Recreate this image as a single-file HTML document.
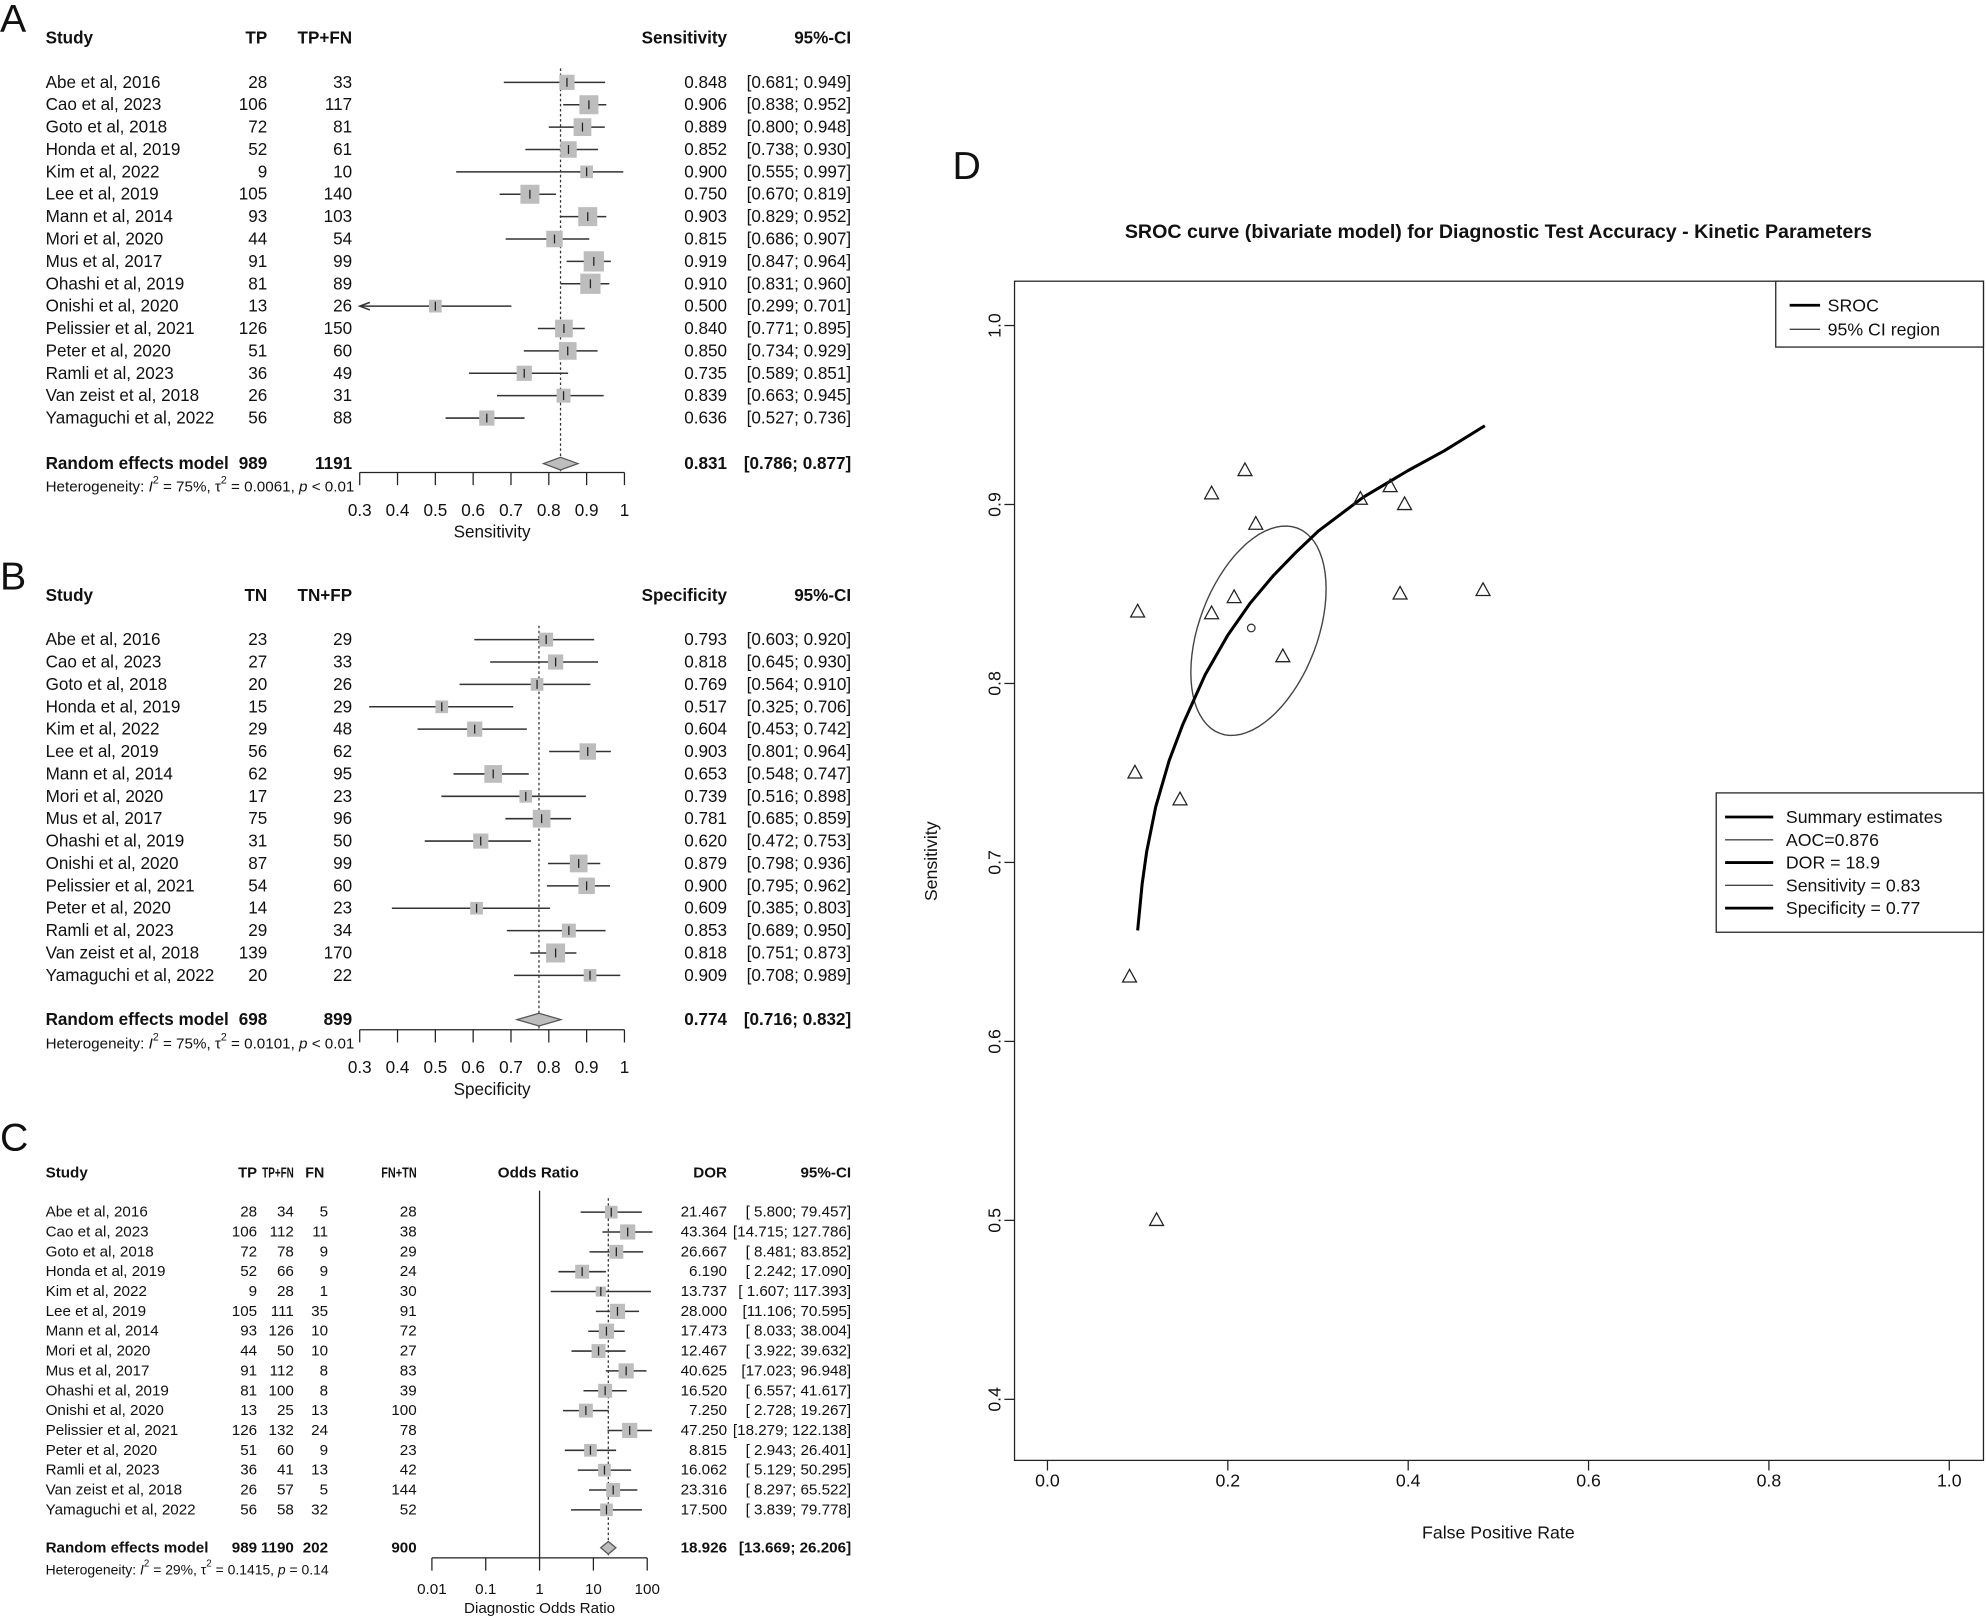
<!DOCTYPE html>
<html><head><meta charset="utf-8"><style>
html,body{margin:0;padding:0;background:#fff;}
svg{display:block;font-family:"Liberation Sans",Arial,sans-serif;}
text{white-space:pre;}
</style></head><body>
<svg id="fig" width="1986" height="1620" viewBox="0 0 1568 1279" xmlns="http://www.w3.org/2000/svg"></svg>
<script>
const studies=["Abe et al, 2016","Cao et al, 2023","Goto et al, 2018","Honda et al, 2019","Kim et al, 2022","Lee et al, 2019","Mann et al, 2014","Mori et al, 2020","Mus et al, 2017","Ohashi et al, 2019","Onishi et al, 2020","Pelissier et al, 2021","Peter et al, 2020","Ramli et al, 2023","Van zeist et al, 2018","Yamaguchi et al, 2022"];
// Panel A
const aTP=[28,106,72,52,9,105,93,44,91,81,13,126,51,36,26,56];
const aTot=[33,117,81,61,10,140,103,54,99,89,26,150,60,49,31,88];
const aSens=[0.848,0.906,0.889,0.852,0.900,0.750,0.903,0.815,0.919,0.910,0.500,0.840,0.850,0.735,0.839,0.636];
const aLo=[0.681,0.838,0.800,0.738,0.555,0.670,0.829,0.686,0.847,0.831,0.299,0.771,0.734,0.589,0.663,0.527];
const aHi=[0.949,0.952,0.948,0.930,0.997,0.819,0.952,0.907,0.964,0.960,0.701,0.895,0.929,0.851,0.945,0.736];
const aW=[12,15,14,13,10,15,15,13,16,16,10,14,14,12,11,12];
const aPooled=[0.831,0.786,0.877];
// Panel B
const bTN=[23,27,20,15,29,56,62,17,75,31,87,54,14,29,139,20];
const bTot=[29,33,26,29,48,62,95,23,96,50,99,60,23,34,170,22];
const bSpec=[0.793,0.818,0.769,0.517,0.604,0.903,0.653,0.739,0.781,0.620,0.879,0.900,0.609,0.853,0.818,0.909];
const bLo=[0.603,0.645,0.564,0.325,0.453,0.801,0.548,0.516,0.685,0.472,0.798,0.795,0.385,0.689,0.751,0.708];
const bHi=[0.920,0.930,0.910,0.706,0.742,0.964,0.747,0.898,0.859,0.753,0.936,0.962,0.803,0.950,0.873,0.989];
const bW=[11,12,10,10,12,13,14,10,14,12,14,13,10,11,15,10];
const bPooled=[0.774,0.716,0.832];
// Panel C
const cTP=[28,106,72,52,9,105,93,44,91,81,13,126,51,36,26,56];
const cTPFN=[34,112,78,66,28,111,126,50,112,100,25,132,60,41,57,58];
const cFN=[5,11,9,9,1,35,10,10,8,8,13,24,9,13,5,32];
const cFNTN=[28,38,29,24,30,91,72,27,83,39,100,78,23,42,144,52];
const cDOR=[21.467,43.364,26.667,6.190,13.737,28.000,17.473,12.467,40.625,16.520,7.250,47.250,8.815,16.062,23.316,17.500];
const cLo=[5.800,14.715,8.481,2.242,1.607,11.106,8.033,3.922,17.023,6.557,2.728,18.279,2.943,5.129,8.297,3.839];
const cHi=[79.457,127.786,83.852,17.090,117.393,70.595,38.004,39.632,96.948,41.617,19.267,122.138,26.401,50.295,65.522,79.778];
const cW=[10,12,11,11,8,12,12,11,12,11,11,12,10,10,11,10];
const cPooled=[18.926,13.669,26.206];
// Panel D
const dSens=aSens;
const dFpr=bSpec.map(s=>+(1-s).toFixed(3));
const dSummary=[0.226,0.831];
const srocFpr=[0.1,0.105,0.11,0.12,0.135,0.15,0.175,0.2,0.225,0.25,0.275,0.3,0.35,0.4,0.44,0.485];
const srocSens=[0.662,0.688,0.706,0.731,0.757,0.777,0.805,0.827,0.845,0.860,0.873,0.885,0.904,0.919,0.930,0.944];
const ellipse=[0.234,0.8295,0.075,0.0585,1.16]; // cx, cy, rx, ry, phase
const dXTicks=[0,0.2,0.4,0.6,0.8,1.0];
const dYTicks=[0.4,0.5,0.6,0.7,0.8,0.9,1.0];

const NS="http://www.w3.org/2000/svg";
const svg=document.getElementById('fig');
function el(tag,attrs,parent,txt){const e=document.createElementNS(NS,tag);for(const k in attrs)e.setAttribute(k,attrs[k]);if(txt!==undefined)e.textContent=txt;(parent||svg).appendChild(e);return e;}
function grp(name){const g=el('g',{});return g;}
function txt(g,name,x,y,s,opt){opt=opt||{};const t=el('text',{x:x,y:y,'font-size':opt.fs||13.5,'text-anchor':opt.anchor||'start','dominant-baseline':'central','font-weight':opt.bold?'bold':'normal',fill:'#111'},g,s);
if(opt.tl){t.setAttribute('textLength',opt.tl);t.setAttribute('lengthAdjust','spacingAndGlyphs');}

return t;}
const f3=v=>v.toFixed(3);
const pad=(s,n)=>' '.repeat(Math.max(0,n-s.length))+s;

function panelLabel(s,x,y){const g=grp('panel-label-'+s.toLowerCase());txt(g,'panel-letter',x,y,s,{fs:31});}
panelLabel('A',0,15);panelLabel('B',0,455);panelLabel('C',0,898);panelLabel('D',752,131);

function hetero(g,x,y,i2,tau,pstr,fs){
  const t=el('text',{x:x,y:y,'font-size':fs,'dominant-baseline':'central',fill:'#111'},g);
  
  
  el('tspan',{},t,'Heterogeneity: ');el('tspan',{'font-style':'italic'},t,'I');el('tspan',{'baseline-shift':'super','font-size':fs*0.7},t,'2');
  el('tspan',{},t,' = '+i2+', τ');el('tspan',{'baseline-shift':'super','font-size':fs*0.7},t,'2');
  el('tspan',{},t,' = '+tau+', ');el('tspan',{'font-style':'italic'},t,'p');el('tspan',{},t,' '+pstr);
}

function forest(cfg){
  const g=grp(cfg.name);
  const X=cfg.x, Y=i=>cfg.y0+i*cfg.dy, fs=cfg.fs;
  cfg.headers.forEach(h=>txt(g,h.n,h.x,cfg.hy,h.t,{bold:true,anchor:h.a||'end',fs:fs,tl:h.tl}));
  if(cfg.ref!==undefined){const l=el('line',{x1:X(cfg.ref),x2:X(cfg.ref),y1:cfg.refTop,y2:cfg.axisY,stroke:'#222','stroke-width':1},g);}
  const dl=el('line',{x1:X(cfg.pooled[0]),x2:X(cfg.pooled[0]),y1:cfg.dotTop,y2:cfg.axisY,stroke:'#333','stroke-width':1,'stroke-dasharray':'2,2'},g);
  
  studies.forEach((s,i)=>{
    const y=Y(i);
    txt(g,'study-name',36,y,s,{fs:fs});
    cfg.cols.forEach(c=>txt(g,c.n,c.x,y,String(c.d[i]),{anchor:'end',fs:fs}));
    txt(g,'estimate-value',cfg.estX,y,cfg.fmtE(cfg.est[i]),{anchor:'end',fs:fs});
    txt(g,'ci-value',672,y,cfg.fmtCI(cfg.lo[i],cfg.hi[i]),{anchor:'end',fs:fs});
    const lo=Math.max(cfg.lo[i],cfg.min),hi=Math.min(cfg.hi[i],cfg.maxLine);
    const ln=el('line',{x1:X(lo),x2:X(hi),y1:y,y2:y,stroke:'#333','stroke-width':1.2},g);
    
    if(cfg.lo[i]<cfg.min){const ar=el('path',{d:`M${X(cfg.min)+8},${y-3} L${X(cfg.min)},${y} L${X(cfg.min)+8},${y+3}`,fill:'none',stroke:'#333','stroke-width':1.2},g);}
    const w=cfg.w[i];
    const sq=el('rect',{x:X(cfg.est[i])-w/2,y:y-w/2,width:w,height:w,fill:'#bdbdbd'},g);
    
    const tk=el('line',{x1:X(cfg.est[i]),x2:X(cfg.est[i]),y1:y-3.5,y2:y+3.5,stroke:'#222','stroke-width':1},g);
    
  });
  const ry=cfg.ry;
  txt(g,'pooled-label',36,ry,'Random effects model',{bold:true,fs:fs});
  cfg.pcols.forEach(c=>txt(g,'pooled-count',c.x,ry,String(c.v),{bold:true,anchor:'end',fs:fs}));
  txt(g,'pooled-estimate',cfg.estX,ry,cfg.fmtE(cfg.pooled[0]),{bold:true,anchor:'end',fs:fs});
  txt(g,'pooled-ci',672,ry,cfg.fmtCI(cfg.pooled[1],cfg.pooled[2]),{bold:true,anchor:'end',fs:fs});
  const dm=el('polygon',{points:`${X(cfg.pooled[1])},${ry} ${X(cfg.pooled[0])},${ry-cfg.dh} ${X(cfg.pooled[2])},${ry} ${X(cfg.pooled[0])},${ry+cfg.dh}`,fill:'#bdbdbd',stroke:'#555','stroke-width':1},g);
  
  hetero(g,36,cfg.hetY,cfg.het[0],cfg.het[1],cfg.het[2],cfg.hfs);
  const ax=grp(cfg.name+'-axis');g.appendChild(ax);
  const al=el('line',{x1:X(cfg.ticks[0]),x2:X(cfg.ticks[cfg.ticks.length-1]),y1:cfg.axisY,y2:cfg.axisY,stroke:'#222','stroke-width':1},ax);
  
  cfg.ticks.forEach((t,i)=>{const tl=el('line',{x1:X(t),x2:X(t),y1:cfg.axisY,y2:cfg.axisY+10,stroke:'#222','stroke-width':1},ax);
    txt(ax,'x-tick-label',X(t),cfg.axisY+cfg.tlOff,cfg.tickLabels[i],{anchor:'middle',fs:cfg.tfs});});
  txt(ax,'x-axis-title',X(cfg.titleAt),cfg.axisY+cfg.titleOff,cfg.title,{anchor:'middle',fs:cfg.tfs});
}
const linX=v=>284+(v-0.3)*298.6;
const ciFmt=(l,h)=>'['+f3(l)+'; '+f3(h)+']';
const propTicks=[0.3,0.4,0.5,0.6,0.7,0.8,0.9,1];
const propLabels=['0.3','0.4','0.5','0.6','0.7','0.8','0.9','1'];
forest({name:'forest-sensitivity',x:linX,y0:65,dy:17.67,fs:13.5,hfs:12,tfs:13.5,hy:30,
  headers:[{n:'study-header',t:'Study',x:36,a:'start'},{n:'tp-header',t:'TP',x:211},{n:'tp-fn-header',t:'TP+FN',x:278},{n:'sensitivity-header',t:'Sensitivity',x:574},{n:'ci-header',t:'95%-CI',x:672}],
  cols:[{n:'tp-value',x:211,d:aTP},{n:'tp-fn-value',x:278,d:aTot}],
  est:aSens,lo:aLo,hi:aHi,w:aW,pooled:aPooled,estX:574,fmtE:f3,fmtCI:ciFmt,min:0.3,maxLine:1,
  dotTop:54,axisY:373,ry:366,dh:5,pcols:[{x:211,v:989},{x:278,v:1191}],hetY:384,het:['75%','0.0061','< 0.01'],
  ticks:propTicks,tickLabels:propLabels,tlOff:30,titleOff:47,title:'Sensitivity',titleAt:0.65});
forest({name:'forest-specificity',x:linX,y0:505,dy:17.67,fs:13.5,hfs:12,tfs:13.5,hy:470,
  headers:[{n:'study-header',t:'Study',x:36,a:'start'},{n:'tn-header',t:'TN',x:211},{n:'tn-fp-header',t:'TN+FP',x:278},{n:'specificity-header',t:'Specificity',x:574},{n:'ci-header',t:'95%-CI',x:672}],
  cols:[{n:'tn-value',x:211,d:bTN},{n:'tn-fp-value',x:278,d:bTot}],
  est:bSpec,lo:bLo,hi:bHi,w:bW,pooled:bPooled,estX:574,fmtE:f3,fmtCI:ciFmt,min:0.3,maxLine:1,
  dotTop:494,axisY:813,ry:805,dh:5,pcols:[{x:211,v:698},{x:278,v:899}],hetY:824,het:['75%','0.0101','< 0.01'],
  ticks:propTicks,tickLabels:propLabels,tlOff:30,titleOff:47,title:'Specificity',titleAt:0.65});
const logX=v=>341+(Math.log10(v)+2)*42.5;
forest({name:'forest-dor',x:logX,y0:957,dy:15.67,fs:12,hfs:11,tfs:12,hy:926,
  headers:[{n:'study-header',t:'Study',x:36,a:'start'},{n:'tp-header',t:'TP',x:203,tl:15},{n:'tp-fn-header',t:'TP+FN',x:232,tl:25},{n:'fn-header',t:'FN',x:256,tl:15},{n:'fn-tn-header',t:'FN+TN',x:329,tl:28},{n:'odds-ratio-header',t:'Odds Ratio',x:425,a:'middle'},{n:'dor-header',t:'DOR',x:574},{n:'ci-header',t:'95%-CI',x:672}],
  cols:[{n:'tp-value',x:203,d:cTP},{n:'tp-fn-value',x:232,d:cTPFN},{n:'fn-value',x:259,d:cFN},{n:'fn-tn-value',x:329,d:cFNTN}],
  est:cDOR,lo:cLo,hi:cHi,w:cW,pooled:cPooled,estX:574,fmtE:f3,fmtCI:(l,h)=>'['+pad(f3(l),6)+'; '+pad(f3(h),6)+']',min:0.01,maxLine:125,
  ref:1,refTop:940,dotTop:946,axisY:1230,ry:1222,dh:5,pcols:[{x:203,v:989},{x:232,v:1190},{x:259,v:202},{x:329,v:900}],hetY:1239,het:['29%','0.1415','= 0.14'],
  ticks:[0.01,0.1,1,10,100],tickLabels:['0.01','0.1','1','10','100'],tlOff:25,titleOff:40,title:'Diagnostic Odds Ratio',titleAt:1});

// Panel D
(function(){
  const g=grp('sroc-plot');
  const X=v=>827+v*712, Y=v=>257+(1-v)*1413;
  const L=801,R=1566,T=222,B=1153;
  txt(g,'chart-title',1183,183,'SROC curve (bivariate model) for Diagnostic Test Accuracy - Kinetic Parameters',{bold:true,anchor:'middle',fs:15.5});
  const box=el('rect',{x:L,y:T,width:R-L,height:B-T,fill:'none',stroke:'#222','stroke-width':1},g);
  
  dXTicks.forEach(v=>{const l=el('line',{x1:X(v),x2:X(v),y1:B,y2:B+8,stroke:'#222'},g);
    txt(g,'x-tick-label',X(v),B+16,v.toFixed(1),{anchor:'middle',fs:14});});
  dYTicks.forEach(v=>{const l=el('line',{x1:L,x2:L-8,y1:Y(v),y2:Y(v),stroke:'#222'},g);
    const tt=txt(g,'y-tick-label',L-16,Y(v),v.toFixed(1),{anchor:'middle',fs:14});tt.setAttribute('transform',`rotate(-90 ${L-16} ${Y(v)})`);});
  txt(g,'x-axis-title',1183,1210,'False Positive Rate',{anchor:'middle',fs:14});
  const yt=txt(g,'y-axis-title',735,680,'Sensitivity',{anchor:'middle',fs:14});yt.setAttribute('transform','rotate(-90 735 680)');
  let pts=[];for(let k=0;k<=72;k++){const a=k/72*2*Math.PI;pts.push(X(ellipse[0]+ellipse[2]*Math.cos(a)).toFixed(1)+','+Y(ellipse[1]+ellipse[3]*Math.cos(a-ellipse[4])).toFixed(1));}
  const ep=el('polyline',{points:pts.join(' '),fill:'none',stroke:'#444','stroke-width':1.1},g);
  
  const sp=el('polyline',{points:srocFpr.map((f,i)=>X(f)+','+Y(srocSens[i])).join(' '),fill:'none',stroke:'#000','stroke-width':2.4,'stroke-linejoin':'round'},g);
  
  dFpr.forEach((f,i)=>{const x=X(f),y=Y(dSens[i]);const tr=el('polygon',{points:`${x},${y-6} ${x-5.5},${y+4} ${x+5.5},${y+4}`,fill:'none',stroke:'#222','stroke-width':1},g);
    });
  const c=el('circle',{cx:X(dSummary[0]),cy:Y(dSummary[1]),r:3,fill:'none',stroke:'#333'},g);
  
  const lg1=grp('legend-sroc');g.appendChild(lg1);
  el('rect',{x:1402,y:222,width:164,height:52,fill:'#fff',stroke:'#222'},lg1);
  [['SROC',2.2,'#000'],['95% CI region',1.1,'#444']].forEach((e,i)=>{const y=241+i*19;
    const l=el('line',{x1:1413,x2:1437,y1:y,y2:y,stroke:e[2],'stroke-width':e[1]},lg1);
    txt(lg1,'legend-entry',1443,y,e[0],{fs:14});});
  const lg2=grp('legend-summary');g.appendChild(lg2);
  el('rect',{x:1355,y:626,width:211,height:110,fill:'#fff',stroke:'#222'},lg2);
  [['Summary estimates',2.2,'#000'],['AOC=0.876',1.1,'#444'],['DOR = 18.9',2.2,'#000'],['Sensitivity = 0.83',1.1,'#444'],['Specificity = 0.77',2.2,'#000']].forEach((e,i)=>{const y=645+i*18;
    const l=el('line',{x1:1362,x2:1400,y1:y,y2:y,stroke:e[2],'stroke-width':e[1]},lg2);
    txt(lg2,'legend-entry',1410,y,e[0],{fs:14});});
})();
</script>
</body></html>
